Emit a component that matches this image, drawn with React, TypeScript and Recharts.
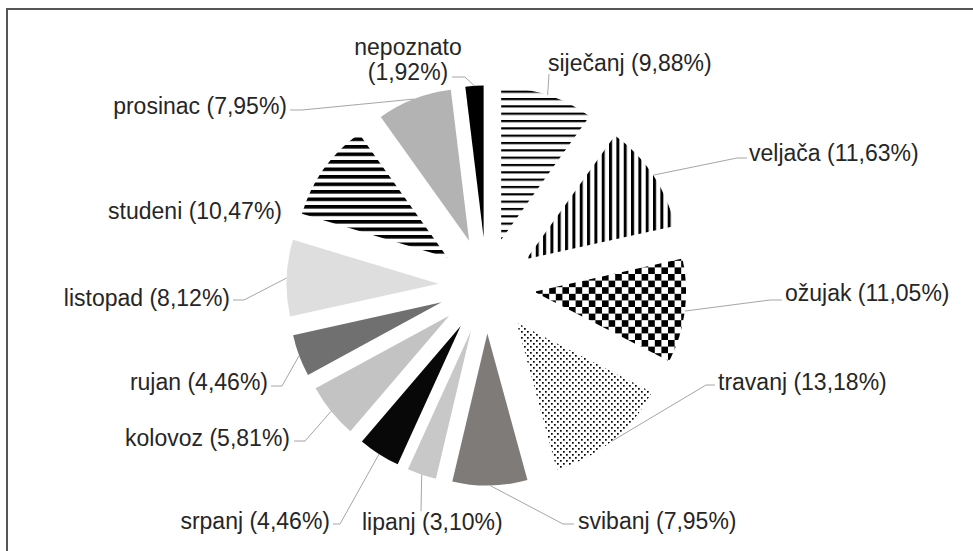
import React from "react";
import { PieChart, Pie, Cell, Sector } from "recharts";

// ---- data ----
const MONTHS = [
  "siječanj", "veljača", "ožujak", "travanj", "svibanj", "lipanj", "srpanj",
  "kolovoz", "rujan", "listopad", "studeni", "prosinac", "nepoznato",
];
const SHARES = [9.88, 11.63, 11.05, 13.18, 7.95, 3.1, 4.46, 5.81, 4.46, 8.12, 10.47, 7.95, 1.92];

// ---- styles ----
const FILLS = [
  "url(#pStripeH)", "url(#pStripeV)", "url(#pChecker)", "url(#pDots)",
  "#7f7b79", "#c8c8c8", "#080808", "#c3c3c3", "#707070", "#dedede",
  "url(#pStripeHBold)", "#b3b3b3", "#000000",
];

// ---- layout (offsets relative to pie centre) ----
type LabelLayout = { tx: number; ty: number; anchor: "start" | "end" | "middle"; leader: number[][]; wrap?: boolean };
const LABEL_LAYOUT: LabelLayout[] = [
  { tx: 61.5, ty: -222.5, anchor: "start", leader: [[62.5, -211.5]] },
  { tx: 262.5, ty: -132.5, anchor: "start", leader: [[250.5, -127.5], [260.5, -127.5]] },
  { tx: 298.5, ty: 7.5, anchor: "start", leader: [[283.5, 14.5], [295.5, 14.5]] },
  { tx: 231.5, ty: 96.5, anchor: "start", leader: [[219.5, 99.5], [228.5, 99.5]] },
  { tx: 91.5, ty: 235.5, anchor: "start", leader: [[76.5, 238.5], [87.5, 238.5]] },
  { tx: -124.5, ty: 236.5, anchor: "start", leader: [[-65.5, 225.5]] },
  { tx: -156.5, ty: 235.5, anchor: "end", leader: [[-146.5, 238.5], [-153.5, 238.5]] },
  { tx: -196.5, ty: 152.5, anchor: "end", leader: [[-181.5, 155.5], [-192.5, 155.5]] },
  { tx: -218.5, ty: 96.5, anchor: "end", leader: [[-204.5, 100.5], [-215.5, 100.5]] },
  { tx: -256.5, ty: 12.5, anchor: "end", leader: [[-242.5, 14.5], [-253.5, 14.5]] },
  { tx: -204.5, ty: -74.5, anchor: "end", leader: [] },
  { tx: -199.5, ty: -179.5, anchor: "end", leader: [[-184.5, -175.5], [-196.5, -175.5]] },
  { tx: -78.5, ty: -238.5, anchor: "middle", leader: [[-21.5, -208.5], [-34.5, -208.5]], wrap: true },
];

const EXPLODE = 48;
const RAD = Math.PI / 180;
const FONT = "'Liberation Sans', Arial, sans-serif";
const FONT_SIZE = 23;

const data = MONTHS.map((name, i) => ({ name, value: SHARES[i] }));

const fmt = (v: number) => v.toFixed(2).replace(".", ",");

const ExplodedSector = (props: any) => {
  const { cx, cy, midAngle, startAngle, endAngle, innerRadius, outerRadius, fill } = props;
  const a = -midAngle * RAD;
  return (
    <Sector
      cx={cx + EXPLODE * Math.cos(a)}
      cy={cy + EXPLODE * Math.sin(a)}
      innerRadius={innerRadius}
      outerRadius={outerRadius}
      startAngle={startAngle}
      endAngle={endAngle}
      fill={fill}
      stroke="none"
    />
  );
};

const renderLabel = (props: any) => {
  const { cx, cy, midAngle, outerRadius, index } = props;
  const L = LABEL_LAYOUT[index];
  const a = -midAngle * RAD;
  const r = outerRadius + EXPLODE;
  const sx = cx + r * Math.cos(a);
  const sy = cy + r * Math.sin(a);
  const pts = [[sx, sy], ...L.leader.map(([dx, dy]) => [cx + dx, cy + dy])];
  const name = MONTHS[index];
  const pct = `(${fmt(SHARES[index])}%)`;
  const x = cx + L.tx;
  const y = cy + L.ty;
  return (
    <g key={`lbl-${index}`}>
      {L.leader.length > 0 && (
        <polyline
          points={pts.map((p) => p.join(",")).join(" ")}
          fill="none"
          stroke="#a6a6a6"
          strokeWidth={1}
        />
      )}
      {L.wrap ? (
        <text x={x} y={y} textAnchor={L.anchor} fill="#262626" fontSize={FONT_SIZE} fontFamily={FONT} dominantBaseline="central">
          <tspan x={x} y={y}>{name}</tspan>
          <tspan x={x} y={y + 25}>{pct}</tspan>
        </text>
      ) : (
        <text x={x} y={y} textAnchor={L.anchor} fill="#262626" fontSize={FONT_SIZE} fontFamily={FONT} dominantBaseline="central">
          {`${name} ${pct}`}
        </text>
      )}
    </g>
  );
};

export default function App() {
  return (
    <div
      style={{
        position: "absolute",
        left: 6,
        top: 8,
        borderTop: "2px solid #555",
        borderLeft: "2px solid #555",
        width: 965,
        height: 541,
        overflow: "hidden",
        background: "#fff",
      }}
    >
      <PieChart width={960} height={535} margin={{ top: 0, right: 0, bottom: 0, left: 0 }}>
        <defs>
          <pattern id="pStripeH" patternUnits="userSpaceOnUse" width={8} height={7.33}>
            <rect width={8} height={7.33} fill="#fff" />
            <rect y={0} width={8} height={2.2} fill="#000" />
          </pattern>
          <pattern id="pStripeHBold" patternUnits="userSpaceOnUse" width={8} height={7.5}>
            <rect width={8} height={7.5} fill="#fff" />
            <rect y={0} width={8} height={3.6} fill="#000" />
          </pattern>
          <pattern id="pStripeV" patternUnits="userSpaceOnUse" width={7.33} height={8}>
            <rect width={7.33} height={8} fill="#fff" />
            <rect x={0} width={3} height={8} fill="#000" />
          </pattern>
          <pattern id="pChecker" patternUnits="userSpaceOnUse" width={13.2} height={13.2}>
            <rect width={13.2} height={13.2} fill="#fff" />
            <rect x={0} y={0} width={6.6} height={6.6} fill="#000" />
            <rect x={6.6} y={6.6} width={6.6} height={6.6} fill="#000" />
          </pattern>
          <pattern id="pDots" patternUnits="userSpaceOnUse" width={6} height={6}>
            <rect width={6} height={6} fill="#fff" />
            <rect x={0} y={0} width={1.7} height={1.7} fill="#000" />
            <rect x={3} y={3} width={1.7} height={1.7} fill="#000" />
          </pattern>
        </defs>
        <Pie
          data={data}
          dataKey="value"
          nameKey="name"
          cx={478.5}
          cy={275.5}
          outerRadius={152}
          innerRadius={0}
          startAngle={90}
          endAngle={-270}
          stroke="none"
          shape={ExplodedSector}
          activeShape={ExplodedSector}
          inactiveShape={ExplodedSector}
          label={renderLabel}
          labelLine={false}
          isAnimationActive={false}
        >
          {data.map((d, i) => (
            <Cell key={d.name} fill={FILLS[i]} />
          ))}
        </Pie>
      </PieChart>
    </div>
  );
}
